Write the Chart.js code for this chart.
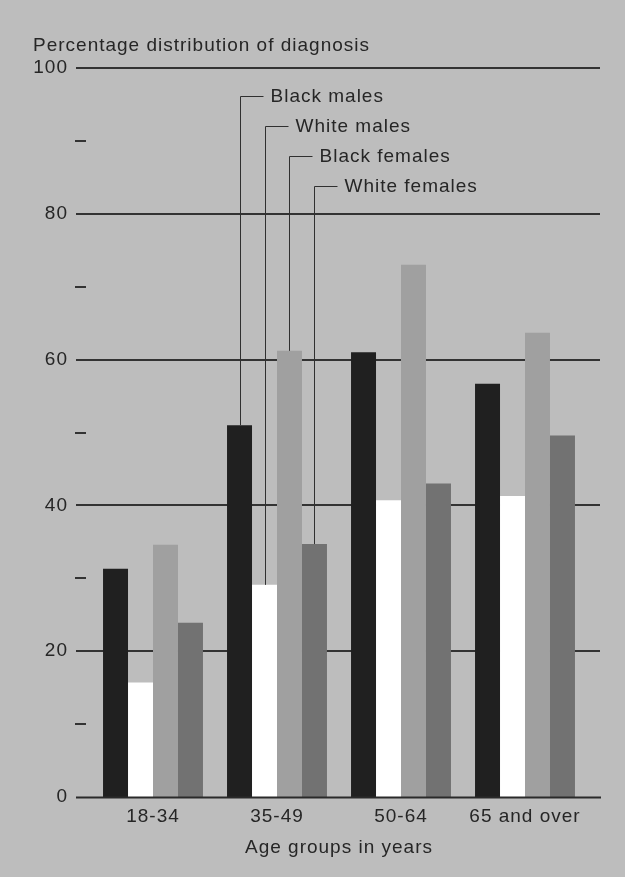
<!DOCTYPE html>
<html>
<head>
<meta charset="utf-8">
<script src="https://cdn.jsdelivr.net/npm/chart.js@4.4.0/dist/chart.umd.min.js"></script>
<style>
    html, body { margin: 0; padding: 0; background: #bdbdbd; }
    canvas { display: block; }
</style>
</head>
<body>
<canvas id="chart" width="625" height="877"></canvas>
<script>
// datos
const ageGroups = ['18-34', '35-49', '50-64', '65 and over']
const blackMales = [31.3, 51.0, 61.0, 56.7]
const whiteMales = [15.7, 29.1, 40.7, 41.3]
const blackFemales = [34.6, 61.2, 73.0, 63.7]
const whiteFemales = [23.9, 34.7, 43.0, 49.6]
const seriesNames = ['Black males', 'White males', 'Black females', 'White females']
const majorTicks = [0, 20, 40, 60, 80, 100]
const minorTicks = [10, 30, 50, 70, 90]

const ink = '#262626'
const font = '"Liberation Sans", Arial, Helvetica, sans-serif'
const fontSize = 19

// texto un poco espaciado como en el original
const spacingPlugin = {
    id: 'spacing',
    beforeDraw: chart => { chart.ctx.letterSpacing = '1px' }
}

// lineas de la reticula, por detras de las barras
const gridPlugin = {
    id: 'grid',
    beforeDatasetsDraw: chart => {
        const ctx = chart.ctx
        const y = chart.scales.y
        ctx.save()
        ctx.strokeStyle = '#333'
        ctx.lineWidth = 2
        majorTicks.filter(v => v > 0).forEach(v => {
            const py = Math.round(y.getPixelForValue(v))
            ctx.beginPath()
            ctx.moveTo(76, py)
            ctx.lineTo(600, py)
            ctx.stroke()
        })
        minorTicks.forEach(v => {
            const py = Math.round(y.getPixelForValue(v))
            ctx.beginPath()
            ctx.moveTo(75, py)
            ctx.lineTo(86, py)
            ctx.stroke()
        })
        ctx.restore()
    },
    afterDatasetsDraw: chart => {
        const ctx = chart.ctx
        const py = Math.round(chart.scales.y.getPixelForValue(0)) + 0.5
        ctx.save()
        ctx.strokeStyle = '#2a2a2a'
        ctx.lineWidth = 2
        ctx.beginPath()
        ctx.moveTo(76, py)
        ctx.lineTo(601, py)
        ctx.stroke()
        ctx.restore()
    }
}

// etiquetas con lineas guia hacia el grupo 35-49
const leaderPlugin = {
    id: 'leaders',
    afterDatasetsDraw: chart => {
        const ctx = chart.ctx
        ctx.save()
        ctx.letterSpacing = '1px'
        ctx.strokeStyle = '#303030'
        ctx.lineWidth = 1
        ctx.fillStyle = ink
        ctx.font = fontSize + 'px ' + font
        ctx.textBaseline = 'alphabetic'
        seriesNames.forEach((name, i) => {
            const bar = chart.getDatasetMeta(i).data[1]
            const bx = Math.round(bar.x) + 0.5
            const base = 101.5 + i * 30.3
            const ly = Math.round(base - 6) + 0.5
            ctx.beginPath()
            ctx.moveTo(bx, bar.y)
            ctx.lineTo(bx, ly)
            ctx.lineTo(bx + 23, ly)
            ctx.stroke()
            ctx.fillText(name, bx + 30, base)
        })
        ctx.fillText('Percentage distribution of diagnosis', 33, 50.5)
        ctx.restore()
    }
}

new Chart('chart', {
    type: 'bar',
    data: {
        labels: ageGroups,
        datasets: [
            { label: seriesNames[0], data: blackMales, backgroundColor: '#202020' },
            { label: seriesNames[1], data: whiteMales, backgroundColor: '#ffffff' },
            { label: seriesNames[2], data: blackFemales, backgroundColor: '#a0a0a0' },
            { label: seriesNames[3], data: whiteFemales, backgroundColor: '#727272' }
        ]
    },
    options: {
        responsive: false,
        animation: false,
        devicePixelRatio: 1,
        categoryPercentage: 0.806,
        barPercentage: 1,
        layout: { padding: { left: 0, right: 38, top: 68, bottom: 0 } },
        plugins: { legend: { display: false }, tooltip: { enabled: false } },
        scales: {
            x: {
                grid: { display: false, drawTicks: false },
                border: { display: false },
                ticks: { color: ink, font: { family: font, size: fontSize }, padding: 8 },
                title: {
                    display: true,
                    text: 'Age groups in years',
                    color: ink,
                    font: { family: font, size: fontSize },
                    padding: { top: 0, bottom: 18 }
                },
                afterFit: scale => { scale.height = 80 }
            },
            y: {
                min: 0,
                max: 100,
                grid: { display: false, drawTicks: false },
                border: { display: false },
                ticks: {
                    stepSize: 20,
                    color: ink,
                    font: { family: font, size: fontSize },
                    padding: 23
                },
                afterFit: scale => { scale.width = 91 }
            }
        }
    },
    plugins: [spacingPlugin, gridPlugin, leaderPlugin]
})
</script>
</body>
</html>
